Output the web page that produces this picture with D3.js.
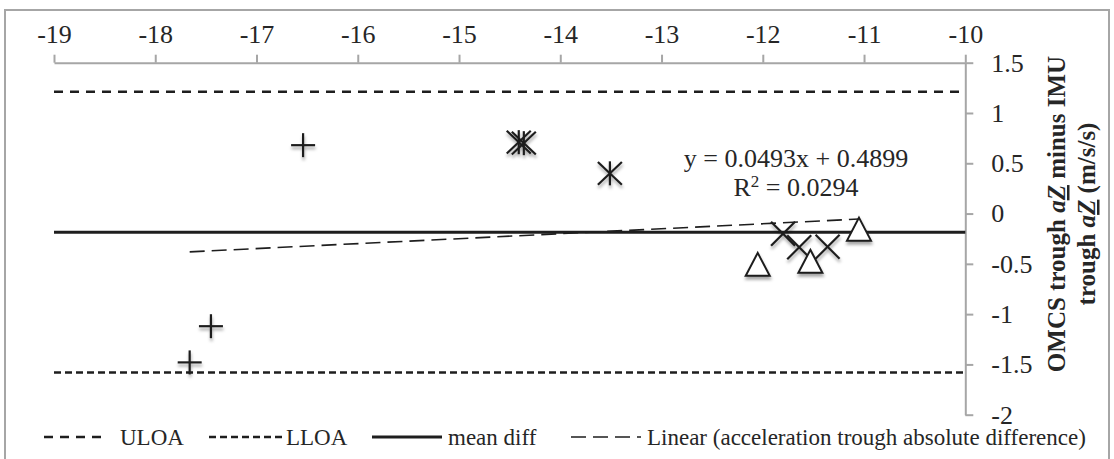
<!DOCTYPE html>
<html>
<head>
<meta charset="utf-8">
<script src="https://cdn.jsdelivr.net/npm/d3@7"></script>
<style>
  html, body { margin: 0; padding: 0; background: #fff; }
  svg { display: block; font-family: "Liberation Serif", "DejaVu Serif", serif; }
</style>
</head>
<body>
<svg id="chart" width="1114" height="459"></svg>
<script>
// Axis ticks
const xTicks = [-19, -18, -17, -16, -15, -14, -13, -12, -11, -10];
const yTicks = [1.5, 1, 0.5, 0, -0.5, -1, -1.5, -2];

// Agreement limits and mean difference
const ULOA = 1.21;
const LLOA = -1.58;
const meanDiff = -0.185;

// Linear trendline (as reported on the chart)
const trendSlope = 0.0493;
const trendIntercept = 0.4899;
const trendR2 = 0.0294;

// Paired observations: mean trough vs. difference, one array pair per participant
const plusX = [-16.54, -17.45, -17.66];
const plusY = [0.68, -1.12, -1.48];
const starX = [-14.41, -14.36, -13.51];
const starY = [0.71, 0.70, 0.40];
const crossX = [-11.80, -11.64, -11.36];
const crossY = [-0.20, -0.335, -0.33];
const triX = [-12.05, -11.53, -11.05];
const triY = [-0.51, -0.48, -0.16];

const legendLabels = ["ULOA", "LLOA", "mean diff", "Linear (acceleration trough absolute difference)"];

const svg = d3.select("#chart");
const ink = "#1e1e1e";
const axisGrey = "#a6a6a6";

// Drop shadow for markers
const defs = svg.append("defs");
const f = defs.append("filter").attr("id", "mshadow")
  .attr("x", "-50%").attr("y", "-50%").attr("width", "200%").attr("height", "220%");
f.append("feDropShadow").attr("dx", 0.5).attr("dy", 3).attr("stdDeviation", 1.6)
  .attr("flood-color", "#000").attr("flood-opacity", 0.35);

// Outer chart frame
svg.append("rect").attr("x", 5).attr("y", 10).attr("width", 1104).attr("height", 460)
  .attr("fill", "none").attr("stroke", axisGrey).attr("stroke-width", 2);

const x = d3.scaleLinear().domain([-19, -10]).range([54, 965.3]);
const y = d3.scaleLinear().domain([-2, 1.5]).range([414.7, 62.7]);

// Top horizontal axis at y = 1.5
const gx = svg.append("g").attr("transform", `translate(0,${y(1.5)})`)
  .call(d3.axisTop(x).tickValues(xTicks).tickSize(8).tickSizeOuter(0).tickPadding(12)
    .tickFormat(d => String(d)));
// Right vertical axis at x = -10
const gy = svg.append("g").attr("transform", `translate(${x(-10)},0)`)
  .call(d3.axisRight(y).tickValues(yTicks).tickSize(8).tickSizeOuter(0).tickPadding(18)
    .tickFormat(d => String(d)));

[gx, gy].forEach(g => {
  g.select(".domain").attr("stroke", axisGrey).attr("stroke-width", 2);
  g.selectAll(".tick line").attr("stroke", axisGrey).attr("stroke-width", 2);
  g.selectAll(".tick text").attr("fill", "#262626").style("font-size", "26px")
    .style("font-family", "'Liberation Serif', serif");
});

// Reference lines
const styles = {
  ULOA: { dash: "9,7", width: 2.5 },
  LLOA: { dash: "7,4", width: 2.5 },
  mean: { dash: null, width: 3 },
  trend: { dash: "15,7", width: 1.6 }
};
function hline(v, st) {
  svg.append("line").attr("x1", x(-19)).attr("x2", x(-10))
    .attr("y1", y(v)).attr("y2", y(v))
    .attr("stroke", ink).attr("stroke-width", st.width)
    .attr("stroke-dasharray", st.dash);
}
hline(ULOA, styles.ULOA);
hline(LLOA, styles.LLOA);
hline(meanDiff, styles.mean);

// Trendline across the range of observations
const allX = [].concat(plusX, starX, crossX, triX);
const tx = d3.extent(allX);
const trendFn = v => trendSlope * v + trendIntercept;
svg.append("line")
  .attr("x1", x(tx[0])).attr("y1", y(trendFn(tx[0])))
  .attr("x2", x(tx[1])).attr("y2", y(trendFn(tx[1])))
  .attr("stroke", ink).attr("stroke-width", styles.trend.width)
  .attr("stroke-dasharray", styles.trend.dash);

// Markers
const m = svg.append("g").attr("filter", "url(#mshadow)");
const r = 12;
function pairs(xs, ys) { return xs.map((v, i) => [v, ys[i]]); }
function segs(g, data, lines) {
  data.forEach(([vx, vy]) => {
    const cx = x(vx), cy = y(vy);
    lines.forEach(([a, b, c, d]) => {
      g.append("line").attr("x1", cx + a).attr("y1", cy + b).attr("x2", cx + c).attr("y2", cy + d)
        .attr("stroke", ink).attr("stroke-width", 2.2);
    });
  });
}
const plusSegs = [[-r, 0, r, 0], [0, -r, 0, r]];
const crossSegs = [[-r, -r, r, r], [-r, r, r, -r]];
const starSegs = [[-r, -r * 0.95, r, r * 0.95], [-r, r * 0.95, r, -r * 0.95], [0, -r, 0, r]];
segs(m, pairs(plusX, plusY), plusSegs);
segs(m, pairs(starX, starY), starSegs);
segs(m, pairs(crossX, crossY), crossSegs);
pairs(triX, triY).forEach(([vx, vy]) => {
  const cx = x(vx), cy = y(vy);
  m.append("path")
    .attr("d", `M${cx},${cy - 12}L${cx + 12},${cy + 11}L${cx - 12},${cy + 11}Z`)
    .attr("fill", "#fff").attr("stroke", ink).attr("stroke-width", 2);
});

// Trendline equation
const eq = svg.append("text").attr("text-anchor", "middle").attr("fill", "#262626")
  .style("font-size", "26px");
eq.append("tspan").attr("x", 796).attr("y", 167)
  .text(`y = ${trendSlope}x + ${trendIntercept}`);
const l2 = eq.append("tspan").attr("x", 796).attr("y", 196);
l2.append("tspan").text("R");
l2.append("tspan").attr("dy", -9).style("font-size", "17px").text("2");
l2.append("tspan").attr("dy", 9).text(` = ${trendR2}`);

// Right axis title (two lines, rotated)
const title = svg.append("text")
  .attr("transform", "translate(1071,214) rotate(-90)")
  .attr("text-anchor", "middle").attr("fill", "#262626")
  .style("font-size", "25px").style("font-weight", "bold");
function titleLine(dyVal, parts) {
  const t = title.append("tspan").attr("x", 0).attr("dy", dyVal);
  parts.forEach((p, i) => {
    const s = i === 0 ? t : title.append("tspan");
    if (i === 0) { s.text(p.text); } else { s.text(p.text); }
    if (p.italic) s.style("font-style", "italic");
    if (p.under) s.style("text-decoration", "underline");
  });
}
const line1 = title.append("tspan").attr("x", 0).attr("dy", -6);
line1.append("tspan").text("OMCS trough ");
line1.append("tspan").style("font-style", "italic").text("a");
line1.append("tspan").style("font-style", "italic").style("text-decoration", "underline").text("Z");
line1.append("tspan").text(" minus IMU");
const line2 = title.append("tspan").attr("x", 0).attr("dy", 30);
line2.append("tspan").text("trough ");
line2.append("tspan").style("font-style", "italic").text("a");
line2.append("tspan").style("font-style", "italic").style("text-decoration", "underline").text("Z");
line2.append("tspan").text(" (m/s/s)");

// Legend
const legendItems = [
  { label: legendLabels[0], st: styles.ULOA, x0: 44, x1: 107, tx: 120 },
  { label: legendLabels[1], st: styles.LLOA, x0: 209, x1: 282, tx: 286 },
  { label: legendLabels[2], st: styles.mean, x0: 372, x1: 442, tx: 448 },
  { label: legendLabels[3], st: styles.trend, x0: 571, x1: 641, tx: 647 }
];
const lg = svg.append("g");
legendItems.forEach(it => {
  lg.append("line").attr("x1", it.x0).attr("x2", it.x1).attr("y1", 437).attr("y2", 437)
    .attr("stroke", ink).attr("stroke-width", it.st.width).attr("stroke-dasharray", it.st.dash);
  lg.append("text").attr("x", it.tx).attr("y", 445).attr("fill", "#262626")
    .style("font-size", "23px").text(it.label);
});
</script>
</body>
</html>
